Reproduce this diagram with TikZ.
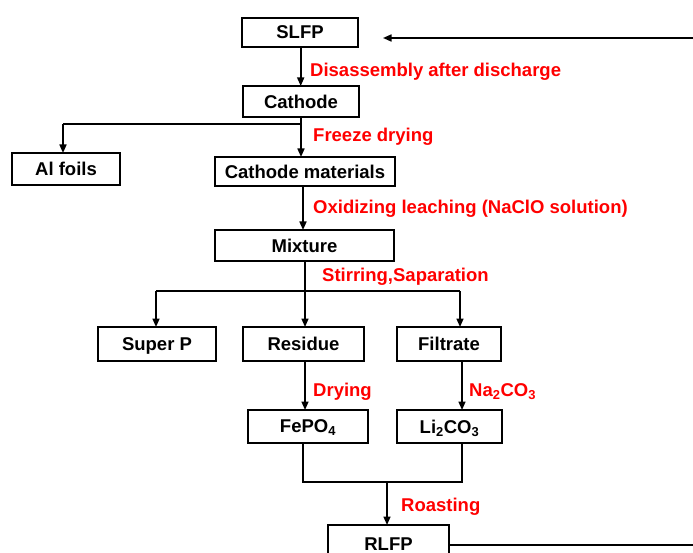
\documentclass[tikz,border=0pt]{standalone}
\usepackage{fontspec}
\setmainfont{Liberation Sans}
\usetikzlibrary{arrows.meta}
\begin{document}
\begin{tikzpicture}[x=1pt,y=-1pt,
  font=\fontsize{18.5}{22}\selectfont\bfseries,
  box/.style={draw,line width=2.2pt,inner sep=0pt,outer sep=0pt,text depth=0pt},
  conn/.style={line width=1.6pt},
  arr/.style={conn,-{Triangle[length=8.5pt,width=7pt]}},
  lbl/.style={text=red,anchor=base west,inner sep=0pt}]
\useasboundingbox (0,0) rectangle (693,553);
\clip (0,0) rectangle (693,553);
% boxes
\node[box,minimum width=116pt,minimum height=29pt] (slfp) at (300,32.5) {SLFP};
\node[box,minimum width=116pt,minimum height=31pt] (cath) at (301,101.5) {Cathode};
\node[box,minimum width=108pt,minimum height=32pt] (al) at (66,169) {Al foils};
\node[box,minimum width=180pt,minimum height=29pt] (cm) at (305,171.5) {Cathode materials};
\node[box,minimum width=179pt,minimum height=31pt] (mix) at (304.5,245.5) {Mixture};
\node[box,minimum width=118pt,minimum height=34pt] (sp) at (157,344) {Super P};
\node[box,minimum width=121pt,minimum height=34pt] (res) at (303.5,344) {Residue};
\node[box,minimum width=104pt,minimum height=34pt] (fil) at (449,344) {Filtrate};
\node[box,minimum width=120pt,minimum height=33pt] (fe) at (308,426.5) {FePO\textsubscript{4}};
\node[box,minimum width=105pt,minimum height=33pt] (li) at (449.5,426.5) {Li\textsubscript{2}CO\textsubscript{3}};
\node[box,minimum width=121pt,minimum height=38pt] (rlfp) at (388.5,544) {RLFP};
% labels
\node[lbl] (l1) at (310,77) {Disassembly after discharge};
\node[lbl] (l2) at (313,142) {Freeze drying};
\node[lbl] (l3) at (313,214) {Oxidizing leaching (NaClO solution)};
\node[lbl] (l4) at (322,281.5) {Stirring,Saparation};
\node[lbl] (l5) at (313,396) {Drying};
\node[lbl] (l6) at (469,396) {Na\textsubscript{2}CO\textsubscript{3}};
\node[lbl] (l7) at (401,511.5) {Roasting};
% coordinates
\coordinate (c1) at (301,124);
\coordinate (c1l) at (63,124);
\coordinate (c2) at (305,291);
\coordinate (c2l) at (156,291);
\coordinate (c2r) at (460,291);
\coordinate (c3l) at (303,482);
\coordinate (c3r) at (462,482);
\coordinate (c3m) at (387,482);
\coordinate (rt) at (693,38);
\coordinate (rtend) at (383,38);
\coordinate (rb) at (693,545);
% connectors
\draw[arr] (rt) -- (rtend);
\draw[arr] (slfp.south -| 300.7,0) -- (cath.north -| 300.7,0);
\draw[conn] (cath.south -| c1) -- (c1) -- (c1l);
\draw[arr] (c1l) -- (c1l |- al.north);
\draw[arr] (c1) -- (c1 |- cm.north);
\draw[arr] (cm.south -| 303,0) -- (mix.north -| 303,0);
\draw[conn] (c2 |- mix.south) -- (c2);
\draw[conn] (c2l) -- (c2r);
\draw[arr] (c2l) -- (c2l |- sp.north);
\draw[arr] (c2) -- (c2 |- res.north);
\draw[arr] (c2r) -- (c2r |- fil.north);
\draw[arr] (res.south -| 305,0) -- (fe.north -| 305,0);
\draw[arr] (fil.south -| 462,0) -- (li.north -| 462,0);
\draw[conn] (c3l |- fe.south) -- (c3l) -- (c3r) -- (c3r |- li.south);
\draw[arr] (c3m) -- (c3m |- rlfp.north);
\draw[conn] (rlfp.east |- rb) -- (rb);
\end{tikzpicture}
\end{document}
